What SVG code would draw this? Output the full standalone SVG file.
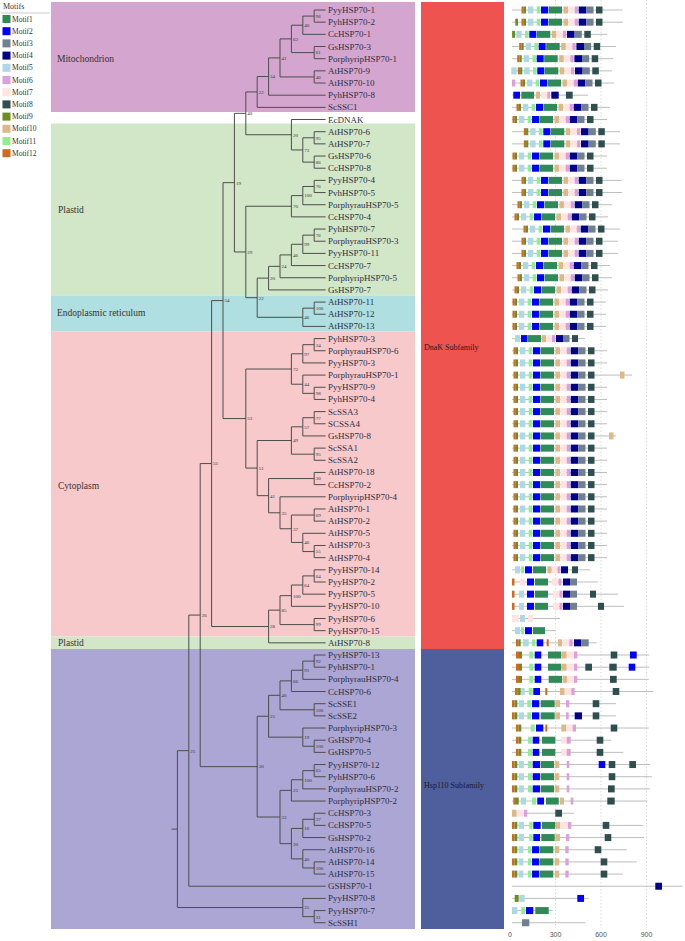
<svg xmlns="http://www.w3.org/2000/svg" xmlns:xlink="http://www.w3.org/1999/xlink" width="685" height="941" viewBox="0 0 685 941">
<style>
.bl{font-family:"Liberation Serif","Times New Roman",serif;font-size:9.5px;fill:#333}
.leaf{font-family:"Liberation Serif","Times New Roman",serif;font-size:9px;fill:#2e2e3e}
.bs{font-family:"Liberation Serif","Times New Roman",serif;font-size:5px;fill:#333}
.sub{font-family:"Liberation Serif","Times New Roman",serif;font-size:8px;fill:#1a1a1a}
.lg{font-family:"Liberation Serif","Times New Roman",serif;font-size:7.5px;fill:#333}
.tree path{fill:none;stroke:#4d4d4d;stroke-width:1}
.pl{fill:none;stroke:#bdbdbd;stroke-width:1}
.grid{stroke:#d0d0d0;stroke-width:0.8;stroke-dasharray:1.5 2}
.ax{font-family:"Liberation Sans",Arial,sans-serif;font-size:7px;fill:#555;text-anchor:middle}
.m1{fill:#2e8b57}.m2{fill:#0000ff}.m3{fill:#708090}.m4{fill:#00008b}.m5{fill:#add8e6}.m6{fill:#dda0dd}
.m7{fill:#ffe4e1}.m8{fill:#2f4f4f}.m9{fill:#6b8e23}.m10{fill:#deb887}.m11{fill:#90ee90}.m12{fill:#d2691e}
</style>
<defs>
<g id="T">
<rect class="m12" x="-19.5" y="-3.5" width="2.3" height="7"/>
<rect class="m9" x="-17.2" y="-3.5" width="2.2" height="7"/>
<rect class="m5" x="-13" y="-3.5" width="5.3" height="7"/>
<rect class="m11" x="-4.3" y="-3.5" width="3.6" height="7"/>
<rect class="m2" x="0" y="-3.5" width="7" height="7"/>
<rect class="m1" x="7.5" y="-3.5" width="13.5" height="7"/>
<rect class="m10" x="22.5" y="-3.5" width="4.5" height="7"/>
<rect class="m7" x="27.5" y="-3.5" width="6" height="7"/>
<rect class="m6" x="33.7" y="-3.5" width="3.3" height="7"/>
<rect class="m4" x="37.7" y="-3.5" width="7.6" height="7"/>
<rect class="m3" x="45.3" y="-3.5" width="7.2" height="7"/>
<rect class="m8" x="55" y="-3.5" width="6.5" height="7"/>
</g>
<g id="Tn">
<rect class="m9" x="-17.2" y="-3.5" width="3" height="7"/>
<rect class="m5" x="-13" y="-3.5" width="5.3" height="7"/>
<rect class="m11" x="-4.3" y="-3.5" width="3.6" height="7"/>
<rect class="m2" x="0" y="-3.5" width="7" height="7"/>
<rect class="m1" x="7.5" y="-3.5" width="13.5" height="7"/>
<rect class="m10" x="22.5" y="-3.5" width="4.5" height="7"/>
<rect class="m7" x="27.5" y="-3.5" width="6" height="7"/>
<rect class="m6" x="33.7" y="-3.5" width="3.3" height="7"/>
<rect class="m4" x="37.7" y="-3.5" width="7.6" height="7"/>
<rect class="m3" x="45.3" y="-3.5" width="7.2" height="7"/>
<rect class="m8" x="55" y="-3.5" width="6.5" height="7"/>
</g>
</defs>
<rect x="0" y="0" width="685" height="941" fill="#ffffff"/>

<g id="legend">
<text class="lg" x="3" y="9" style="font-size:8px">Motifs</text>
<line x1="1" y1="13" x2="50" y2="13" stroke="#aaa" stroke-width="0.6"/>
<rect class="m1" x="2.5" y="15" width="8" height="8"/><text class="lg" x="12" y="21.5">Motif1</text>
<rect class="m2" x="2.5" y="27.2" width="8" height="8"/><text class="lg" x="12" y="33.7">Motif2</text>
<rect class="m3" x="2.5" y="39.4" width="8" height="8"/><text class="lg" x="12" y="45.9">Motif3</text>
<rect class="m4" x="2.5" y="51.6" width="8" height="8"/><text class="lg" x="12" y="58.1">Motif4</text>
<rect class="m5" x="2.5" y="63.8" width="8" height="8"/><text class="lg" x="12" y="70.3">Motif5</text>
<rect class="m6" x="2.5" y="76" width="8" height="8"/><text class="lg" x="12" y="82.5">Motif6</text>
<rect class="m7" x="2.5" y="88.2" width="8" height="8"/><text class="lg" x="12" y="94.7">Motif7</text>
<rect class="m8" x="2.5" y="100.4" width="8" height="8"/><text class="lg" x="12" y="106.9">Motif8</text>
<rect class="m9" x="2.5" y="112.6" width="8" height="8"/><text class="lg" x="12" y="119.1">Motif9</text>
<rect class="m10" x="2.5" y="124.8" width="8" height="8"/><text class="lg" x="12" y="131.3">Motif10</text>
<rect class="m11" x="2.5" y="137" width="8" height="8"/><text class="lg" x="12" y="143.5">Motif11</text>
<rect class="m12" x="2.5" y="149.2" width="8" height="8"/><text class="lg" x="12" y="155.7">Motif12</text>
</g>

<g id="bands">
<rect x="51" y="2" width="364" height="110" fill="#d4a6cf"/>
<rect x="51" y="123.5" width="364" height="172" fill="#d1e7c8"/>
<rect x="51" y="295.5" width="364" height="36" fill="#afdfe0"/>
<rect x="51" y="331.5" width="364" height="305" fill="#f7c9cb"/>
<rect x="51" y="636.5" width="364" height="12.5" fill="#d1e7c8"/>
<rect x="51" y="649" width="364" height="280" fill="#aba6d3"/>
<text class="bl" x="57" y="62">Mitochondrion</text>
<text class="bl" x="58" y="213">Plastid</text>
<text class="bl" x="57" y="316">Endoplasmic reticulum</text>
<text class="bl" x="58" y="489">Cytoplasm</text>
<text class="bl" x="58" y="645.5">Plastid</text>
</g>

<g id="subfamilies">
<rect x="421" y="2" width="83" height="647" fill="#ef5350"/>
<rect x="421" y="649" width="83" height="280" fill="#4f5f9e"/>
<text class="sub" x="424" y="350">DnaK Subfamily</text>
<text class="sub" x="424" y="788">Hsp110 Subfamily</text>
</g>

<g id="axis">
<line class="grid" x1="555.5" y1="0" x2="555.5" y2="928"/>
<line class="grid" x1="601" y1="0" x2="601" y2="928"/>
<line class="grid" x1="646.5" y1="0" x2="646.5" y2="928"/>
<text class="ax" x="510" y="937">0</text>
<text class="ax" x="555.5" y="937">300</text>
<text class="ax" x="601" y="937">600</text>
<text class="ax" x="646.5" y="937">900</text>
</g>

<g id="connectors" class="tree">
<path d="M325.6 10H314.2V22.17H325.6"/>
<path d="M314.2 16.09H302.8V34.34H325.6"/>
<path d="M325.6 46.51H314.2V58.68H325.6"/>
<path d="M302.8 25.21H291.4V52.6H314.2"/>
<path d="M325.6 70.85H314.2V83.02H325.6"/>
<path d="M291.4 38.9H280V76.94H314.2"/>
<path d="M280 57.92H268.6V95.19H325.6"/>
<path d="M268.6 76.56H257.2V107.36H325.6"/>
<path d="M325.6 131.7H314.2V143.87H325.6"/>
<path d="M325.6 156.04H314.2V168.21H325.6"/>
<path d="M314.2 137.79H302.8V162.13H314.2"/>
<path d="M325.6 119.53H291.4V149.96H302.8"/>
<path d="M257.2 91.96H245.8V134.74H291.4"/>
<path d="M325.6 180.38H314.2V192.55H325.6"/>
<path d="M314.2 186.47H302.8V204.72H325.6"/>
<path d="M302.8 195.6H291.4V216.89H325.6"/>
<path d="M325.6 229.06H314.2V241.23H325.6"/>
<path d="M314.2 235.15H302.8V253.4H325.6"/>
<path d="M302.8 244.27H291.4V265.57H325.6"/>
<path d="M291.4 254.92H280V277.74H325.6"/>
<path d="M280 266.33H268.6V289.91H325.6"/>
<path d="M325.6 302.08H314.2V314.25H325.6"/>
<path d="M314.2 308.17H302.8V326.42H325.6"/>
<path d="M268.6 278.12H257.2V317.29H302.8"/>
<path d="M291.4 206.24H245.8V297.7H257.2"/>
<path d="M245.8 113.35H234.4V251.97H245.8"/>
<path d="M325.6 338.59H314.2V350.76H325.6"/>
<path d="M314.2 344.68H302.8V362.93H325.6"/>
<path d="M325.6 387.27H314.2V399.44H325.6"/>
<path d="M325.6 375.1H302.8V393.36H314.2"/>
<path d="M302.8 353.8H291.4V384.23H302.8"/>
<path d="M325.6 411.61H314.2V423.78H325.6"/>
<path d="M314.2 417.7H302.8V435.95H325.6"/>
<path d="M325.6 448.12H314.2V460.29H325.6"/>
<path d="M302.8 426.82H291.4V454.2H314.2"/>
<path d="M325.6 472.46H314.2V484.63H325.6"/>
<path d="M325.6 508.97H314.2V521.14H325.6"/>
<path d="M325.6 545.48H314.2V557.65H325.6"/>
<path d="M325.6 533.31H302.8V551.57H314.2"/>
<path d="M314.2 515.06H291.4V542.44H302.8"/>
<path d="M325.6 496.8H280V528.75H291.4"/>
<path d="M314.2 478.55H268.6V512.78H280"/>
<path d="M291.4 440.51H257.2V495.66H268.6"/>
<path d="M291.4 369.02H245.8V468.09H257.2"/>
<path d="M234.4 182.66H223V418.55H245.8"/>
<path d="M325.6 569.82H314.2V581.99H325.6"/>
<path d="M314.2 575.9H302.8V594.16H325.6"/>
<path d="M302.8 585.03H291.4V606.33H325.6"/>
<path d="M325.6 618.5H314.2V630.67H325.6"/>
<path d="M291.4 595.68H280V624.59H314.2"/>
<path d="M280 610.13H268.6V642.84H325.6"/>
<path d="M223 300.6H211.6V626.49H268.6"/>
<path d="M325.6 655.01H314.2V667.18H325.6"/>
<path d="M314.2 661.1H302.8V679.35H325.6"/>
<path d="M302.8 670.22H291.4V691.52H325.6"/>
<path d="M325.6 703.69H314.2V715.86H325.6"/>
<path d="M291.4 680.87H280V709.78H314.2"/>
<path d="M325.6 740.2H314.2V752.37H325.6"/>
<path d="M325.6 728.03H302.8V746.29H314.2"/>
<path d="M280 695.32H268.6V737.16H302.8"/>
<path d="M325.6 764.54H314.2V776.71H325.6"/>
<path d="M314.2 770.63H302.8V788.88H325.6"/>
<path d="M302.8 779.75H291.4V801.05H325.6"/>
<path d="M325.6 813.22H314.2V825.39H325.6"/>
<path d="M314.2 819.3H302.8V837.56H325.6"/>
<path d="M325.6 861.9H314.2V874.07H325.6"/>
<path d="M325.6 849.73H302.8V867.99H314.2"/>
<path d="M302.8 828.43H291.4V858.86H302.8"/>
<path d="M291.4 790.4H280V843.65H291.4"/>
<path d="M268.6 716.24H257.2V817.02H280"/>
<path d="M211.6 463.55H200.2V766.63H257.2"/>
<path d="M200.2 615.09H188.8V886.24H325.6"/>
<path d="M325.6 910.58H314.2V922.75H325.6"/>
<path d="M325.6 898.41H302.8V916.67H314.2"/>
<path d="M188.8 750.67H177.4V907.54H302.8"/>
<path d="M171.7 829.1H177.4"/>
</g>

<g id="support">
<text class="bs" x="315.7" y="17.9">96</text>
<text class="bs" x="304.3" y="27">40</text>
<text class="bs" x="315.7" y="54.4">61</text>
<text class="bs" x="292.9" y="40.7">63</text>
<text class="bs" x="315.7" y="78.7">46</text>
<text class="bs" x="281.5" y="59.7">41</text>
<text class="bs" x="270.1" y="78.4">34</text>
<text class="bs" x="258.7" y="93.8">22</text>
<text class="bs" x="315.7" y="139.6">95</text>
<text class="bs" x="315.7" y="163.9">86</text>
<text class="bs" x="304.3" y="151.8">73</text>
<text class="bs" x="292.9" y="136.5">20</text>
<text class="bs" x="247.3" y="115.2">40</text>
<text class="bs" x="315.7" y="188.3">76</text>
<text class="bs" x="304.3" y="197.4">100</text>
<text class="bs" x="292.9" y="208">70</text>
<text class="bs" x="315.7" y="237">76</text>
<text class="bs" x="304.3" y="246.1">99</text>
<text class="bs" x="292.9" y="256.7">46</text>
<text class="bs" x="281.5" y="268.1">24</text>
<text class="bs" x="270.1" y="279.9">20</text>
<text class="bs" x="315.7" y="310">100</text>
<text class="bs" x="304.3" y="319.1">46</text>
<text class="bs" x="258.7" y="299.5">22</text>
<text class="bs" x="247.3" y="253.8">29</text>
<text class="bs" x="235.9" y="184.5">19</text>
<text class="bs" x="315.7" y="346.5">34</text>
<text class="bs" x="304.3" y="355.6">97</text>
<text class="bs" x="315.7" y="395.2">98</text>
<text class="bs" x="304.3" y="386">44</text>
<text class="bs" x="292.9" y="370.8">72</text>
<text class="bs" x="315.7" y="419.5">77</text>
<text class="bs" x="304.3" y="428.6">57</text>
<text class="bs" x="315.7" y="456">95</text>
<text class="bs" x="292.9" y="442.3">49</text>
<text class="bs" x="315.7" y="480.4">30</text>
<text class="bs" x="315.7" y="516.9">69</text>
<text class="bs" x="315.7" y="553.4">55</text>
<text class="bs" x="304.3" y="544.2">46</text>
<text class="bs" x="292.9" y="530.6">37</text>
<text class="bs" x="281.5" y="514.6">35</text>
<text class="bs" x="270.1" y="497.5">41</text>
<text class="bs" x="258.7" y="469.9">51</text>
<text class="bs" x="247.3" y="420.4">53</text>
<text class="bs" x="224.5" y="302.4">54</text>
<text class="bs" x="315.7" y="577.7">64</text>
<text class="bs" x="304.3" y="586.8">64</text>
<text class="bs" x="292.9" y="597.5">100</text>
<text class="bs" x="315.7" y="626.4">99</text>
<text class="bs" x="281.5" y="611.9">85</text>
<text class="bs" x="270.1" y="628.3">28</text>
<text class="bs" x="213.1" y="465.4">55</text>
<text class="bs" x="315.7" y="662.9">92</text>
<text class="bs" x="304.3" y="672">91</text>
<text class="bs" x="292.9" y="682.7">66</text>
<text class="bs" x="315.7" y="711.6">100</text>
<text class="bs" x="281.5" y="697.1">40</text>
<text class="bs" x="315.7" y="748.1">100</text>
<text class="bs" x="304.3" y="739">19</text>
<text class="bs" x="270.1" y="718">25</text>
<text class="bs" x="315.7" y="772.4">65</text>
<text class="bs" x="304.3" y="781.6">100</text>
<text class="bs" x="292.9" y="792.2">23</text>
<text class="bs" x="315.7" y="821.1">37</text>
<text class="bs" x="304.3" y="830.2">16</text>
<text class="bs" x="315.7" y="869.8">100</text>
<text class="bs" x="304.3" y="860.7">40</text>
<text class="bs" x="292.9" y="845.5">30</text>
<text class="bs" x="281.5" y="818.8">33</text>
<text class="bs" x="258.7" y="768.4">30</text>
<text class="bs" x="201.7" y="616.9">26</text>
<text class="bs" x="190.3" y="752.5">25</text>
<text class="bs" x="315.7" y="918.5">31</text>
<text class="bs" x="304.3" y="909.3">25</text>
</g>

<g id="leaves">
<g id="leaf01"><text class="leaf" x="328" y="13">PyyHSP70-1</text><path class="pl" d="M512 10H622.7"/><use href="#T" x="541" y="10"/></g>
<g id="leaf02"><text class="leaf" x="328" y="25.17">PyhHSP70-2</text><path class="pl" d="M512 22.17H622.7"/><rect class="m9" x="515.3" y="18.67" width="2.7" height="7"/><use href="#T" x="541" y="22.17"/></g>
<g id="leaf03"><text class="leaf" x="328" y="37.34">CcHSP70-1</text><path class="pl" d="M512 34.34H607"/><use href="#Tn" x="529.3" y="34.34"/></g>
<g id="leaf04"><text class="leaf" x="328" y="49.51">GsHSP70-3</text><path class="pl" d="M512 46.51H616"/><use href="#T" x="538.7" y="46.51"/></g>
<g id="leaf05"><text class="leaf" x="328" y="61.68">PorphyripHSP70-1</text><path class="pl" d="M512 58.68H613.3"/><use href="#T" x="536.7" y="58.68"/></g>
<g id="leaf06"><text class="leaf" x="328" y="73.85">AtHSP70-9</text><path class="pl" d="M512 70.85H612"/><rect class="m5" x="511.3" y="67.35" width="5.3" height="7"/><use href="#T" x="537.3" y="70.85"/></g>
<g id="leaf07"><text class="leaf" x="328" y="86.02">AtHSP70-10</text><path class="pl" d="M512 83.02H614"/><rect class="m6" x="512" y="79.52" width="3.3" height="7"/><use href="#T" x="540" y="83.02"/></g>
<g id="leaf08"><text class="leaf" x="328" y="98.19">PyhHSP70-8</text><path class="pl" d="M512 95.19H588"/><g transform="translate(0,95.19)"><rect class="m2" x="513.3" y="-3.5" width="6.7" height="7"/><rect class="m1" x="521.3" y="-3.5" width="12.7" height="7"/><rect class="m10" x="536" y="-3.5" width="4" height="7"/><rect class="m7" x="541.3" y="-3.5" width="5.4" height="7"/><rect class="m6" x="547.3" y="-3.5" width="2.7" height="7"/><rect class="m4" x="551.3" y="-3.5" width="7.4" height="7"/><rect class="m8" x="566" y="-3.5" width="6.7" height="7"/></g></g>
<g id="leaf09"><text class="leaf" x="328" y="110.36">ScSSC1</text><path class="pl" d="M512 107.36H610"/><use href="#T" x="536" y="107.36"/></g>
<g id="leaf10"><text class="leaf" x="328" y="122.53">EcDNAK</text><path class="pl" d="M512 119.53H607"/><use href="#T" x="532" y="119.53"/></g>
<g id="leaf11"><text class="leaf" x="328" y="134.7">AtHSP70-6</text><path class="pl" d="M512 131.7H620"/><use href="#T" x="543.3" y="131.7"/></g>
<g id="leaf12"><text class="leaf" x="328" y="146.87">AtHSP70-7</text><path class="pl" d="M512 143.87H620"/><use href="#T" x="543.3" y="143.87"/></g>
<g id="leaf13"><text class="leaf" x="328" y="159.04">GsHSP70-6</text><path class="pl" d="M512 156.04H607"/><use href="#T" x="532" y="156.04"/></g>
<g id="leaf14"><text class="leaf" x="328" y="171.21">CcHSP70-8</text><path class="pl" d="M512 168.21H607"/><use href="#T" x="532" y="168.21"/></g>
<g id="leaf15"><text class="leaf" x="328" y="183.38">PyyHSP70-4</text><path class="pl" d="M512 180.38H622"/><use href="#T" x="541" y="180.38"/></g>
<g id="leaf16"><text class="leaf" x="328" y="195.55">PvhHSP70-5</text><path class="pl" d="M512 192.55H622"/><use href="#T" x="541" y="192.55"/></g>
<g id="leaf17"><text class="leaf" x="328" y="207.72">PorphyrauHSP70-5</text><path class="pl" d="M512 204.72H612"/><use href="#T" x="537" y="204.72"/></g>
<g id="leaf18"><text class="leaf" x="328" y="219.89">CcHSP70-4</text><path class="pl" d="M512 216.89H608"/><use href="#T" x="534" y="216.89"/></g>
<g id="leaf19"><text class="leaf" x="328" y="232.06">PyhHSP70-7</text><path class="pl" d="M512 229.06H620"/><use href="#T" x="543" y="229.06"/></g>
<g id="leaf20"><text class="leaf" x="328" y="244.23">PorphyrauHSP70-3</text><path class="pl" d="M512 241.23H618"/><use href="#T" x="541" y="241.23"/></g>
<g id="leaf21"><text class="leaf" x="328" y="256.4">PyyHSP70-11</text><path class="pl" d="M512 253.4H618"/><use href="#T" x="541" y="253.4"/></g>
<g id="leaf22"><text class="leaf" x="328" y="268.57">CcHSP70-7</text><path class="pl" d="M512 265.57H610"/><use href="#T" x="536" y="265.57"/></g>
<g id="leaf23"><text class="leaf" x="328" y="280.74">PorphyripHSP70-5</text><path class="pl" d="M512 277.74H612"/><use href="#T" x="537" y="277.74"/></g>
<g id="leaf24"><text class="leaf" x="328" y="292.91">GsHSP70-7</text><path class="pl" d="M512 289.91H608"/><use href="#T" x="534" y="289.91"/></g>
<g id="leaf25"><text class="leaf" x="328" y="305.08">AtHSP70-11</text><path class="pl" d="M512 302.08H606"/><use href="#T" x="532" y="302.08"/></g>
<g id="leaf26"><text class="leaf" x="328" y="317.25">AtHSP70-12</text><path class="pl" d="M512 314.25H606"/><use href="#T" x="532" y="314.25"/></g>
<g id="leaf27"><text class="leaf" x="328" y="329.42">AtHSP70-13</text><path class="pl" d="M512 326.42H606"/><use href="#T" x="532" y="326.42"/></g>
<g id="leaf28"><text class="leaf" x="328" y="341.59">PyhHSP70-3</text><path class="pl" d="M512 338.59H585"/><g transform="translate(0,338.59)"><rect class="m5" x="515" y="-3.5" width="5" height="7"/><rect class="m2" x="521" y="-3.5" width="6.5" height="7"/><rect class="m1" x="528" y="-3.5" width="13" height="7"/><rect class="m10" x="542" y="-3.5" width="4" height="7"/><rect class="m7" x="546.5" y="-3.5" width="5" height="7"/><rect class="m6" x="552" y="-3.5" width="3" height="7"/><rect class="m4" x="556" y="-3.5" width="7" height="7"/><rect class="m3" x="563" y="-3.5" width="6.5" height="7"/><rect class="m8" x="572" y="-3.5" width="6" height="7"/></g></g>
<g id="leaf29"><text class="leaf" x="328" y="353.76">PorphyrauHSP70-6</text><path class="pl" d="M512 350.76H607"/><use href="#T" x="533" y="350.76"/></g>
<g id="leaf30"><text class="leaf" x="328" y="365.93">PyyHSP70-3</text><path class="pl" d="M512 362.93H607"/><use href="#T" x="533" y="362.93"/></g>
<g id="leaf31"><text class="leaf" x="328" y="378.1">PorphyrauHSP70-1</text><path class="pl" d="M512 375.1H632"/><use href="#T" x="533" y="375.1"/><rect class="m10" x="620" y="371.6" width="4.5" height="7"/></g>
<g id="leaf32"><text class="leaf" x="328" y="390.27">PyyHSP70-9</text><path class="pl" d="M512 387.27H607"/><use href="#T" x="533" y="387.27"/></g>
<g id="leaf33"><text class="leaf" x="328" y="402.44">PyhHSP70-4</text><path class="pl" d="M512 399.44H607"/><use href="#T" x="533" y="399.44"/></g>
<g id="leaf34"><text class="leaf" x="328" y="414.61">ScSSA3</text><path class="pl" d="M512 411.61H607"/><use href="#T" x="533" y="411.61"/></g>
<g id="leaf35"><text class="leaf" x="328" y="426.78">SCSSA4</text><path class="pl" d="M512 423.78H607"/><use href="#T" x="533" y="423.78"/></g>
<g id="leaf36"><text class="leaf" x="328" y="438.95">GsHSP70-8</text><path class="pl" d="M512 435.95H616"/><use href="#T" x="533" y="435.95"/><rect class="m10" x="609" y="432.45" width="4.5" height="7"/></g>
<g id="leaf37"><text class="leaf" x="328" y="451.12">ScSSA1</text><path class="pl" d="M512 448.12H607"/><use href="#T" x="533" y="448.12"/></g>
<g id="leaf38"><text class="leaf" x="328" y="463.29">ScSSA2</text><path class="pl" d="M512 460.29H607"/><use href="#T" x="533" y="460.29"/></g>
<g id="leaf39"><text class="leaf" x="328" y="475.46">AtHSP70-18</text><path class="pl" d="M512 472.46H607"/><use href="#T" x="533" y="472.46"/></g>
<g id="leaf40"><text class="leaf" x="328" y="487.63">CcHSP70-2</text><path class="pl" d="M512 484.63H607"/><use href="#T" x="533" y="484.63"/></g>
<g id="leaf41"><text class="leaf" x="328" y="499.8">PorphyripHSP70-4</text><path class="pl" d="M512 496.8H607"/><use href="#T" x="533" y="496.8"/></g>
<g id="leaf42"><text class="leaf" x="328" y="511.97">AtHSP70-1</text><path class="pl" d="M512 508.97H607"/><use href="#T" x="533" y="508.97"/></g>
<g id="leaf43"><text class="leaf" x="328" y="524.14">AtHSP70-2</text><path class="pl" d="M512 521.14H607"/><use href="#T" x="533" y="521.14"/></g>
<g id="leaf44"><text class="leaf" x="328" y="536.31">AtHSP70-5</text><path class="pl" d="M512 533.31H607"/><use href="#T" x="533" y="533.31"/></g>
<g id="leaf45"><text class="leaf" x="328" y="548.48">AtHSP70-3</text><path class="pl" d="M512 545.48H607"/><use href="#T" x="533" y="545.48"/></g>
<g id="leaf46"><text class="leaf" x="328" y="560.65">AtHSP70-4</text><path class="pl" d="M512 557.65H607"/><use href="#T" x="533" y="557.65"/></g>
<g id="leaf47"><text class="leaf" x="328" y="572.82">PyyHSP70-14</text><path class="pl" d="M512 569.82H590"/><g transform="translate(0,569.82)"><rect class="m5" x="515" y="-3.5" width="5" height="7"/><rect class="m11" x="521" y="-3.5" width="3" height="7"/><rect class="m2" x="525" y="-3.5" width="7" height="7"/><rect class="m1" x="533" y="-3.5" width="13" height="7"/><rect class="m10" x="547.5" y="-3.5" width="4" height="7"/><rect class="m7" x="552" y="-3.5" width="5" height="7"/><rect class="m6" x="557.5" y="-3.5" width="3" height="7"/><rect class="m4" x="561" y="-3.5" width="7" height="7"/><rect class="m8" x="572" y="-3.5" width="6" height="7"/></g></g>
<g id="leaf48"><text class="leaf" x="328" y="584.99">PyyHSP70-2</text><path class="pl" d="M512 581.99H598"/><g transform="translate(0,581.99)"><rect class="m12" x="512" y="-3.5" width="2.5" height="7"/><rect class="m7" x="520" y="-3.5" width="5" height="7"/><rect class="m2" x="527" y="-3.5" width="7" height="7"/><rect class="m1" x="535" y="-3.5" width="13" height="7"/><rect class="m7" x="552" y="-3.5" width="6" height="7"/><rect class="m6" x="558.5" y="-3.5" width="3" height="7"/><rect class="m4" x="563" y="-3.5" width="7" height="7"/><rect class="m3" x="570" y="-3.5" width="7" height="7"/></g></g>
<g id="leaf49"><text class="leaf" x="328" y="597.16">PyyHSP70-5</text><path class="pl" d="M512 594.16H618"/><g transform="translate(0,594.16)"><rect class="m12" x="512" y="-3.5" width="2.5" height="7"/><rect class="m5" x="519" y="-3.5" width="5" height="7"/><rect class="m2" x="527" y="-3.5" width="7" height="7"/><rect class="m1" x="535" y="-3.5" width="13" height="7"/><rect class="m7" x="553" y="-3.5" width="6" height="7"/><rect class="m6" x="559.5" y="-3.5" width="3" height="7"/><rect class="m4" x="563" y="-3.5" width="7" height="7"/><rect class="m3" x="570" y="-3.5" width="7" height="7"/><rect class="m8" x="590" y="-3.5" width="6" height="7"/></g></g>
<g id="leaf50"><text class="leaf" x="328" y="609.33">PyyHSP70-10</text><path class="pl" d="M512 606.33H624"/><g transform="translate(0,606.33)"><rect class="m12" x="512" y="-3.5" width="2.5" height="7"/><rect class="m5" x="519" y="-3.5" width="5" height="7"/><rect class="m2" x="527" y="-3.5" width="7" height="7"/><rect class="m1" x="535" y="-3.5" width="13" height="7"/><rect class="m7" x="553" y="-3.5" width="6" height="7"/><rect class="m6" x="559.5" y="-3.5" width="3" height="7"/><rect class="m4" x="563" y="-3.5" width="7" height="7"/><rect class="m3" x="570" y="-3.5" width="7" height="7"/><rect class="m8" x="598" y="-3.5" width="6" height="7"/></g></g>
<g id="leaf51"><text class="leaf" x="328" y="621.5">PyyHSP70-6</text><path class="pl" d="M512 618.5H560"/><g transform="translate(0,618.5)"><rect class="m7" x="512" y="-3.5" width="7" height="7"/><rect class="m5" x="520" y="-3.5" width="5" height="7"/><rect class="m7" x="528" y="-3.5" width="5" height="7"/></g></g>
<g id="leaf52"><text class="leaf" x="328" y="633.67">PyyHSP70-15</text><path class="pl" d="M512 630.67H555"/><g transform="translate(0,630.67)"><rect class="m5" x="515" y="-3.5" width="5" height="7"/><rect class="m11" x="521" y="-3.5" width="3" height="7"/><rect class="m2" x="525" y="-3.5" width="7" height="7"/><rect class="m1" x="533" y="-3.5" width="12" height="7"/></g></g>
<g id="leaf53"><text class="leaf" x="328" y="645.84">AtHSP70-8</text><path class="pl" d="M512 642.84H596.7"/><g transform="translate(0,642.84)"><rect class="m12" x="516" y="-3.5" width="2.3" height="7"/><rect class="m9" x="518.3" y="-3.5" width="2.4" height="7"/><rect class="m5" x="523" y="-3.5" width="5.7" height="7"/><rect class="m11" x="532" y="-3.5" width="3.3" height="7"/><rect class="m2" x="536.7" y="-3.5" width="6.6" height="7"/><rect class="m12" x="546.7" y="-3.5" width="2" height="7"/><rect class="m10" x="558" y="-3.5" width="4" height="7"/><rect class="m7" x="562.7" y="-3.5" width="6.6" height="7"/><rect class="m6" x="569.3" y="-3.5" width="3.4" height="7"/><rect class="m4" x="574" y="-3.5" width="7.3" height="7"/><rect class="m3" x="581.3" y="-3.5" width="7.4" height="7"/></g></g>
<g id="leaf54"><text class="leaf" x="328" y="658.01">PyyHSP70-13</text><path class="pl" d="M512 655.01H649.3"/><g transform="translate(0,655.01)"><rect class="m12" x="516" y="-3.5" width="3" height="7"/><rect class="m9" x="519" y="-3.5" width="3" height="7"/><rect class="m11" x="529.3" y="-3.5" width="4" height="7"/><rect class="m2" x="534.7" y="-3.5" width="6.6" height="7"/><rect class="m1" x="548" y="-3.5" width="13.3" height="7"/><rect class="m10" x="562" y="-3.5" width="4.7" height="7"/><rect class="m7" x="566.7" y="-3.5" width="7.3" height="7"/><rect class="m6" x="574" y="-3.5" width="3.3" height="7"/><rect class="m8" x="610.7" y="-3.5" width="6.6" height="7"/><rect class="m2" x="630" y="-3.5" width="6.7" height="7"/></g></g>
<g id="leaf55"><text class="leaf" x="328" y="670.18">PyhHSP70-1</text><path class="pl" d="M512 667.18H649.3"/><g transform="translate(0,667.18)"><rect class="m12" x="516" y="-3.5" width="3" height="7"/><rect class="m9" x="519" y="-3.5" width="3" height="7"/><rect class="m11" x="529.3" y="-3.5" width="4" height="7"/><rect class="m2" x="534.7" y="-3.5" width="6.6" height="7"/><rect class="m1" x="548" y="-3.5" width="13.3" height="7"/><rect class="m10" x="562" y="-3.5" width="4.7" height="7"/><rect class="m7" x="566.7" y="-3.5" width="7.3" height="7"/><rect class="m6" x="574" y="-3.5" width="3.3" height="7"/><rect class="m8" x="585.3" y="-3.5" width="6.7" height="7"/><rect class="m8" x="609.3" y="-3.5" width="7.4" height="7"/><rect class="m2" x="628.7" y="-3.5" width="6.6" height="7"/></g></g>
<g id="leaf56"><text class="leaf" x="328" y="682.35">PorphyrauHSP70-4</text><path class="pl" d="M512 679.35H648.7"/><g transform="translate(0,679.35)"><rect class="m12" x="516" y="-3.5" width="3" height="7"/><rect class="m9" x="519" y="-3.5" width="3" height="7"/><rect class="m11" x="529.3" y="-3.5" width="4" height="7"/><rect class="m2" x="534.7" y="-3.5" width="6.6" height="7"/><rect class="m1" x="548.7" y="-3.5" width="13.3" height="7"/><rect class="m10" x="562.7" y="-3.5" width="4.6" height="7"/><rect class="m7" x="567.3" y="-3.5" width="6.7" height="7"/><rect class="m6" x="574" y="-3.5" width="3.3" height="7"/><rect class="m8" x="610" y="-3.5" width="6.7" height="7"/></g></g>
<g id="leaf57"><text class="leaf" x="328" y="694.52">CcHSP70-6</text><path class="pl" d="M512 691.52H653.3"/><g transform="translate(0,691.52)"><rect class="m12" x="515" y="-3.5" width="2.8" height="7"/><rect class="m9" x="517.8" y="-3.5" width="2.9" height="7"/><rect class="m5" x="521.3" y="-3.5" width="3.4" height="7"/><rect class="m11" x="528.7" y="-3.5" width="4" height="7"/><rect class="m2" x="533.3" y="-3.5" width="6.7" height="7"/><rect class="m12" x="545.3" y="-3.5" width="2" height="7"/><rect class="m10" x="560" y="-3.5" width="4.7" height="7"/><rect class="m7" x="564.7" y="-3.5" width="6.6" height="7"/><rect class="m6" x="571.3" y="-3.5" width="3.4" height="7"/><rect class="m8" x="612.7" y="-3.5" width="6.6" height="7"/></g></g>
<g id="leaf58"><text class="leaf" x="328" y="706.69">ScSSE1</text><path class="pl" d="M512 703.69H616"/><g transform="translate(0,703.69)"><rect class="m12" x="512" y="-3.5" width="2.5" height="7"/><rect class="m9" x="514.5" y="-3.5" width="2.8" height="7"/><rect class="m5" x="518.7" y="-3.5" width="5.3" height="7"/><rect class="m11" x="527.3" y="-3.5" width="4" height="7"/><rect class="m2" x="532" y="-3.5" width="7.3" height="7"/><rect class="m1" x="540.7" y="-3.5" width="14" height="7"/><rect class="m10" x="555.3" y="-3.5" width="4.7" height="7"/><rect class="m6" x="566" y="-3.5" width="3.3" height="7"/><rect class="m8" x="592.7" y="-3.5" width="6.6" height="7"/></g></g>
<g id="leaf59"><text class="leaf" x="328" y="718.86">ScSSE2</text><path class="pl" d="M512 715.86H616"/><g transform="translate(0,715.86)"><rect class="m12" x="512" y="-3.5" width="2.5" height="7"/><rect class="m9" x="514.5" y="-3.5" width="2.8" height="7"/><rect class="m5" x="518.7" y="-3.5" width="5.3" height="7"/><rect class="m11" x="527.3" y="-3.5" width="4" height="7"/><rect class="m2" x="532" y="-3.5" width="7.3" height="7"/><rect class="m1" x="540.7" y="-3.5" width="14" height="7"/><rect class="m10" x="555.3" y="-3.5" width="4.7" height="7"/><rect class="m6" x="566" y="-3.5" width="2.7" height="7"/><rect class="m4" x="574.7" y="-3.5" width="7.3" height="7"/><rect class="m8" x="592.7" y="-3.5" width="6.6" height="7"/></g></g>
<g id="leaf60"><text class="leaf" x="328" y="731.03">PorphyripHSP70-3</text><path class="pl" d="M512 728.03H648.7"/><g transform="translate(0,728.03)"><rect class="m12" x="516" y="-3.5" width="2.6" height="7"/><rect class="m9" x="518.6" y="-3.5" width="2.7" height="7"/><rect class="m11" x="530.7" y="-3.5" width="4" height="7"/><rect class="m2" x="536" y="-3.5" width="7.3" height="7"/><rect class="m12" x="545.3" y="-3.5" width="2" height="7"/><rect class="m10" x="561.3" y="-3.5" width="4.7" height="7"/><rect class="m7" x="566" y="-3.5" width="6.7" height="7"/><rect class="m6" x="572.7" y="-3.5" width="3.3" height="7"/><rect class="m8" x="610.7" y="-3.5" width="6.6" height="7"/></g></g>
<g id="leaf61"><text class="leaf" x="328" y="743.2">GsHSP70-4</text><path class="pl" d="M512 740.2H611.3"/><g transform="translate(0,740.2)"><rect class="m12" x="516" y="-3.5" width="2.6" height="7"/><rect class="m9" x="518.6" y="-3.5" width="2.7" height="7"/><rect class="m11" x="528" y="-3.5" width="4" height="7"/><rect class="m2" x="532.7" y="-3.5" width="6.6" height="7"/><rect class="m1" x="542" y="-3.5" width="13.3" height="7"/><rect class="m7" x="561.3" y="-3.5" width="5.4" height="7"/><rect class="m6" x="566.7" y="-3.5" width="4" height="7"/><rect class="m8" x="596.7" y="-3.5" width="6.6" height="7"/></g></g>
<g id="leaf62"><text class="leaf" x="328" y="755.37">GsHSP70-5</text><path class="pl" d="M512 752.37H623.3"/><g transform="translate(0,752.37)"><rect class="m12" x="516" y="-3.5" width="2.6" height="7"/><rect class="m9" x="518.6" y="-3.5" width="2.7" height="7"/><rect class="m11" x="528" y="-3.5" width="4" height="7"/><rect class="m2" x="532.7" y="-3.5" width="6.6" height="7"/><rect class="m1" x="542" y="-3.5" width="13.3" height="7"/><rect class="m7" x="561.3" y="-3.5" width="5.4" height="7"/><rect class="m6" x="566.7" y="-3.5" width="4" height="7"/><rect class="m8" x="596.7" y="-3.5" width="6.6" height="7"/></g></g>
<g id="leaf63"><text class="leaf" x="328" y="767.54">PyyHSP70-12</text><path class="pl" d="M512 764.54H650"/><g transform="translate(0,764.54)"><rect class="m12" x="512" y="-3.5" width="2.6" height="7"/><rect class="m9" x="514.6" y="-3.5" width="2.7" height="7"/><rect class="m5" x="518.7" y="-3.5" width="5.3" height="7"/><rect class="m11" x="528" y="-3.5" width="4" height="7"/><rect class="m2" x="532.7" y="-3.5" width="7.3" height="7"/><rect class="m1" x="540.7" y="-3.5" width="13.3" height="7"/><rect class="m10" x="554.7" y="-3.5" width="4.6" height="7"/><rect class="m6" x="566.7" y="-3.5" width="2.6" height="7"/><rect class="m2" x="598.7" y="-3.5" width="6.6" height="7"/><rect class="m8" x="608.7" y="-3.5" width="6.6" height="7"/><rect class="m8" x="629.3" y="-3.5" width="6.7" height="7"/></g></g>
<g id="leaf64"><text class="leaf" x="328" y="779.71">PyhHSP70-6</text><path class="pl" d="M512 776.71H652"/><g transform="translate(0,776.71)"><rect class="m12" x="512" y="-3.5" width="2.6" height="7"/><rect class="m9" x="514.6" y="-3.5" width="2.7" height="7"/><rect class="m5" x="518.7" y="-3.5" width="5.3" height="7"/><rect class="m11" x="528" y="-3.5" width="4" height="7"/><rect class="m2" x="532.7" y="-3.5" width="7.3" height="7"/><rect class="m1" x="540.7" y="-3.5" width="13.3" height="7"/><rect class="m10" x="554.7" y="-3.5" width="4.6" height="7"/><rect class="m6" x="566.7" y="-3.5" width="2.6" height="7"/><rect class="m8" x="608.7" y="-3.5" width="6.6" height="7"/></g></g>
<g id="leaf65"><text class="leaf" x="328" y="791.88">PorphyrauHSP70-2</text><path class="pl" d="M512 788.88H650"/><g transform="translate(0,788.88)"><rect class="m12" x="512" y="-3.5" width="2.6" height="7"/><rect class="m9" x="514.6" y="-3.5" width="2.7" height="7"/><rect class="m5" x="518.7" y="-3.5" width="5.3" height="7"/><rect class="m11" x="528" y="-3.5" width="4" height="7"/><rect class="m2" x="532.7" y="-3.5" width="7.3" height="7"/><rect class="m1" x="540.7" y="-3.5" width="13.3" height="7"/><rect class="m10" x="554.7" y="-3.5" width="4.6" height="7"/><rect class="m6" x="566.7" y="-3.5" width="2.6" height="7"/><rect class="m8" x="608" y="-3.5" width="6.7" height="7"/></g></g>
<g id="leaf66"><text class="leaf" x="328" y="804.05">PorphyripHSP70-2</text><path class="pl" d="M512 801.05H647.3"/><g transform="translate(0,801.05)"><rect class="m12" x="513.3" y="-3.5" width="2.7" height="7"/><rect class="m9" x="516" y="-3.5" width="2.7" height="7"/><rect class="m5" x="520.7" y="-3.5" width="5.3" height="7"/><rect class="m11" x="532" y="-3.5" width="4" height="7"/><rect class="m2" x="537.3" y="-3.5" width="6.7" height="7"/><rect class="m1" x="546" y="-3.5" width="12.7" height="7"/><rect class="m10" x="560" y="-3.5" width="4" height="7"/><rect class="m6" x="570.7" y="-3.5" width="2.6" height="7"/><rect class="m8" x="607.3" y="-3.5" width="7.4" height="7"/></g></g>
<g id="leaf67"><text class="leaf" x="328" y="816.22">CcHSP70-3</text><path class="pl" d="M512 813.22H574"/><g transform="translate(0,813.22)"><rect class="m10" x="512" y="-3.5" width="4.7" height="7"/><rect class="m7" x="516.7" y="-3.5" width="6.6" height="7"/><rect class="m6" x="524" y="-3.5" width="3.3" height="7"/><rect class="m8" x="555.3" y="-3.5" width="6.7" height="7"/></g></g>
<g id="leaf68"><text class="leaf" x="328" y="828.39">CcHSP70-5</text><path class="pl" d="M512 825.39H643.3"/><g transform="translate(0,825.39)"><rect class="m12" x="512" y="-3.5" width="2.6" height="7"/><rect class="m9" x="514.6" y="-3.5" width="2.7" height="7"/><rect class="m5" x="518.7" y="-3.5" width="5.3" height="7"/><rect class="m11" x="529.3" y="-3.5" width="3.4" height="7"/><rect class="m2" x="533.3" y="-3.5" width="7.4" height="7"/><rect class="m1" x="542" y="-3.5" width="13.3" height="7"/><rect class="m10" x="556" y="-3.5" width="4" height="7"/><rect class="m7" x="560" y="-3.5" width="8" height="7"/><rect class="m6" x="568" y="-3.5" width="3.3" height="7"/><rect class="m8" x="602.7" y="-3.5" width="6.6" height="7"/></g></g>
<g id="leaf69"><text class="leaf" x="328" y="840.56">GsHSP70-2</text><path class="pl" d="M512 837.56H644"/><g transform="translate(0,837.56)"><rect class="m12" x="512" y="-3.5" width="2.6" height="7"/><rect class="m9" x="514.6" y="-3.5" width="2.7" height="7"/><rect class="m5" x="518.7" y="-3.5" width="5.3" height="7"/><rect class="m11" x="529.3" y="-3.5" width="3.4" height="7"/><rect class="m2" x="533.3" y="-3.5" width="6.7" height="7"/><rect class="m1" x="541.3" y="-3.5" width="13.4" height="7"/><rect class="m10" x="555.3" y="-3.5" width="4.7" height="7"/><rect class="m6" x="566" y="-3.5" width="3.3" height="7"/><rect class="m8" x="604.7" y="-3.5" width="6.6" height="7"/></g></g>
<g id="leaf70"><text class="leaf" x="328" y="852.73">AtHSP70-16</text><path class="pl" d="M512 849.73H626.7"/><g transform="translate(0,849.73)"><rect class="m12" x="512" y="-3.5" width="2.6" height="7"/><rect class="m9" x="514.6" y="-3.5" width="2.7" height="7"/><rect class="m5" x="518.7" y="-3.5" width="4.6" height="7"/><rect class="m11" x="528" y="-3.5" width="3.3" height="7"/><rect class="m2" x="532" y="-3.5" width="7.3" height="7"/><rect class="m1" x="540" y="-3.5" width="13.3" height="7"/><rect class="m10" x="554.7" y="-3.5" width="4.6" height="7"/><rect class="m6" x="565.3" y="-3.5" width="3.4" height="7"/><rect class="m8" x="594.7" y="-3.5" width="6.6" height="7"/></g></g>
<g id="leaf71"><text class="leaf" x="328" y="864.9">AtHSP70-14</text><path class="pl" d="M512 861.9H636.7"/><g transform="translate(0,861.9)"><rect class="m12" x="512" y="-3.5" width="2.6" height="7"/><rect class="m9" x="514.6" y="-3.5" width="2.7" height="7"/><rect class="m5" x="518.7" y="-3.5" width="4.6" height="7"/><rect class="m11" x="528" y="-3.5" width="3.3" height="7"/><rect class="m2" x="532" y="-3.5" width="7.3" height="7"/><rect class="m1" x="540" y="-3.5" width="13.3" height="7"/><rect class="m10" x="554.7" y="-3.5" width="4.6" height="7"/><rect class="m6" x="565.3" y="-3.5" width="3.4" height="7"/><rect class="m8" x="600.7" y="-3.5" width="6.6" height="7"/></g></g>
<g id="leaf72"><text class="leaf" x="328" y="877.07">AtHSP70-15</text><path class="pl" d="M512 874.07H622.7"/><g transform="translate(0,874.07)"><rect class="m12" x="512" y="-3.5" width="2.6" height="7"/><rect class="m9" x="514.6" y="-3.5" width="2.7" height="7"/><rect class="m5" x="518.7" y="-3.5" width="4.6" height="7"/><rect class="m11" x="528" y="-3.5" width="3.3" height="7"/><rect class="m2" x="532" y="-3.5" width="7.3" height="7"/><rect class="m1" x="540" y="-3.5" width="13.3" height="7"/><rect class="m10" x="554.7" y="-3.5" width="4.6" height="7"/><rect class="m6" x="565.3" y="-3.5" width="3.4" height="7"/><rect class="m8" x="600.7" y="-3.5" width="6.6" height="7"/></g></g>
<g id="leaf73"><text class="leaf" x="328" y="889.24">GSHSP70-1</text><path class="pl" d="M512 886.24H682.7"/><rect class="m4" x="655.3" y="882.74" width="6.7" height="7"/></g>
<g id="leaf74"><text class="leaf" x="328" y="901.41">PyyHSP70-8</text><path class="pl" d="M512 898.41H588.7"/><g transform="translate(0,898.41)"><rect class="m9" x="514.7" y="-3.5" width="4" height="7"/><rect class="m5" x="519.3" y="-3.5" width="5.4" height="7"/><rect class="m2" x="577.3" y="-3.5" width="6.7" height="7"/></g></g>
<g id="leaf75"><text class="leaf" x="328" y="913.58">PyyHSP70-7</text><path class="pl" d="M512 910.58H552.7"/><g transform="translate(0,910.58)"><rect class="m5" x="512" y="-3.5" width="5.3" height="7"/><rect class="m11" x="521.3" y="-3.5" width="4" height="7"/><rect class="m2" x="526" y="-3.5" width="7.3" height="7"/><rect class="m1" x="535.3" y="-3.5" width="13.4" height="7"/></g></g>
<g id="leaf76"><text class="leaf" x="328" y="925.75">ScSSH1</text><path class="pl" d="M512 922.75H585.3"/><rect class="m3" x="522" y="919.25" width="7.3" height="7"/></g>
</g>
</svg>
